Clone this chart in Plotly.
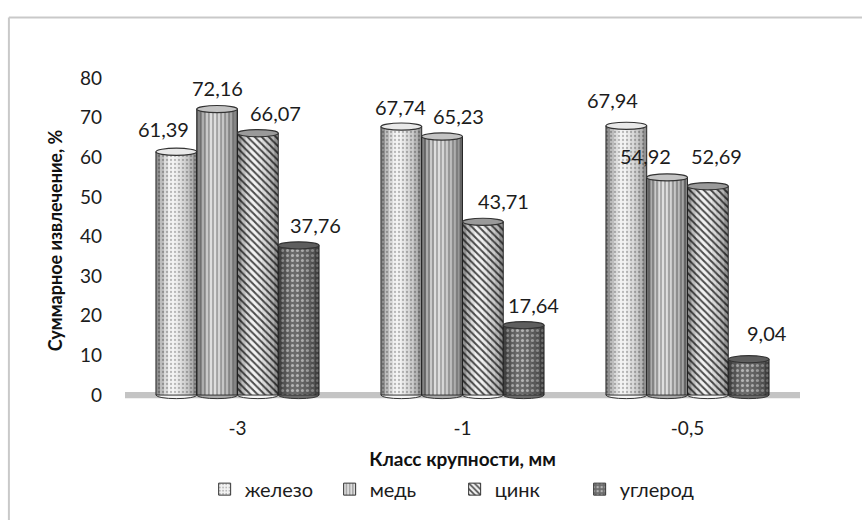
import plotly.graph_objects as go

# ---- data -------------------------------------------------------------
CATEGORIES = ["-3", "-1", "-0,5"]
SERIES = ["железо", "медь", "цинк", "углерод"]
IRON = [61.39, 67.74, 67.94]
COPPER = [72.16, 65.23, 54.92]
ZINC = [66.07, 43.71, 52.69]
CARBON = [37.76, 17.64, 9.04]
Y_TICKS = [0, 10, 20, 30, 40, 50, 60, 70, 80]

VALUES = [IRON, COPPER, ZINC, CARBON]

# ---- styling ----------------------------------------------------------
FONT = "Lato"
TEXT_COLOR = "#1c1c1c"
PATTERNS = [
    dict(shape=".", bgcolor="#f3f3f3", fgcolor="#b8b8b8", size=4, solidity=0.25, fillmode="replace"),
    dict(shape="|", bgcolor="#a9a9a9", fgcolor="#ececec", size=4, solidity=0.4, fillmode="replace"),
    dict(shape="\\", bgcolor="#f2f2f2", fgcolor="#4d4d4d", size=5, solidity=0.4, fillmode="replace"),
    dict(shape=".", bgcolor="#6b6b6b", fgcolor="#b5b5b5", size=5, solidity=0.3, fillmode="replace"),
]
CAP_FILL = ["#e9e9e9", "#c4c4c4", "#9a9a9a", "#5e5e5e"]
EDGE = "#333333"

GROUP_WIDTH = 0.725           # share of a category slot taken by the four bars
BAR_W = GROUP_WIDTH / len(SERIES)
CAP_H = 0.9                   # half height of the cylinder ellipses, in axis units

# pixel nudges for the value labels (per series, per category)
LABEL_DX = [[-13, -1, -14], [0, 16, -22], [18, 21, 9], [17, 10, 18]]
LABEL_DY = [[23, 20, 26], [21, 21, 21], [20, 21, 30], [20, 20, 26]]

# horizontal shading profile across a cylinder (left -> right)
SHADE = [0.4, 0.22, 0.09, 0.0, 0.0, 0.04, 0.1, 0.16, 0.25, 0.4]

fig = go.Figure()
shapes = []
annotations = []

# floor under the cylinders
shapes.append(dict(type="rect", xref="paper", yref="y", x0=0, x1=1, y0=-0.8, y1=0.8,
                   fillcolor="#c4c4c4", line=dict(width=0), layer="below"))

x_idx = list(range(len(CATEGORIES)))
for i, (name, vals) in enumerate(zip(SERIES, VALUES)):
    offset = -GROUP_WIDTH / 2 + i * BAR_W
    fig.add_trace(go.Bar(
        name=name, x=x_idx, y=vals, width=BAR_W, offset=offset,
        marker=dict(color=PATTERNS[i]["bgcolor"], pattern=PATTERNS[i],
                    line=dict(color=EDGE, width=1)),
        hoverinfo="skip",
    ))
    for j, v in enumerate(vals):
        left = x_idx[j] + offset
        right = left + BAR_W
        cx = (left + right) / 2
        # rounded base of the cylinder
        shapes.append(dict(type="circle", xref="x", yref="y", x0=left, x1=right,
                           y0=-CAP_H, y1=CAP_H, fillcolor=PATTERNS[i]["bgcolor"],
                           line=dict(color=EDGE, width=1), layer="below"))
        # shading strips to give the bar a round look
        n = len(SHADE)
        for k, a in enumerate(SHADE):
            if a <= 0:
                continue
            shapes.append(dict(type="rect", xref="x", yref="y",
                               x0=left + k * BAR_W / n, x1=left + (k + 1) * BAR_W / n,
                               y0=0, y1=v, fillcolor=f"rgba(0,0,0,{a})",
                               line=dict(width=0), layer="above"))
        # top ellipse
        shapes.append(dict(type="circle", xref="x", yref="y", x0=left, x1=right,
                           y0=v - CAP_H, y1=v + CAP_H, fillcolor=CAP_FILL[i],
                           line=dict(color=EDGE, width=1.2), layer="above"))
        annotations.append(dict(
            x=cx, y=v, xref="x", yref="y", showarrow=False,
            text=f"{v:.2f}".replace(".", ","),
            xshift=LABEL_DX[i][j], yshift=LABEL_DY[i][j], yanchor="middle",
            font=dict(family=FONT, size=20, color=TEXT_COLOR),
        ))

# frame lines along the top and left edges
shapes.append(dict(type="line", xref="paper", yref="paper", x0=-0.172, x1=1.2,
                   y0=1.186, y1=1.186, line=dict(color="#c9c9c9", width=2)))
shapes.append(dict(type="line", xref="paper", yref="paper", x0=-0.172, x1=-0.172,
                   y0=-0.4, y1=1.186, line=dict(color="#c9c9c9", width=2)))

fig.update_layout(
    width=862, height=520,
    margin=dict(l=125, r=62, t=78, b=107),
    paper_bgcolor="white", plot_bgcolor="white",
    font=dict(family=FONT, size=20, color=TEXT_COLOR),
    barmode="overlay",
    showlegend=True,
    legend=dict(orientation="h", x=0.118, xanchor="left", y=-0.265, yanchor="middle",
                entrywidth=80, entrywidthmode="pixels", itemclick=False,
                font=dict(family=FONT, size=20, color=TEXT_COLOR), traceorder="normal"),
    xaxis=dict(range=[-0.5, 2.5], tickvals=x_idx, ticktext=CATEGORIES,
               showgrid=False, zeroline=False, showline=False, ticks="",
               ticklabelstandoff=12,
               tickfont=dict(family=FONT, size=19, color=TEXT_COLOR),
               title=dict(text="<b>Класс крупности, мм</b>", standoff=14,
                          font=dict(family=FONT, size=19, color="#111111"))),
    yaxis=dict(range=[-2, 80], tickvals=Y_TICKS, showgrid=False, zeroline=False,
               showline=False, ticks="", ticklabelstandoff=22,
               tickfont=dict(family=FONT, size=19, color=TEXT_COLOR),
               title=dict(text="<b>Суммарное извлечение, %</b>", standoff=12,
                          font=dict(family=FONT, size=18, color="#111111"))),
    shapes=shapes,
    annotations=annotations,
)

fig.write_html("out.html")
